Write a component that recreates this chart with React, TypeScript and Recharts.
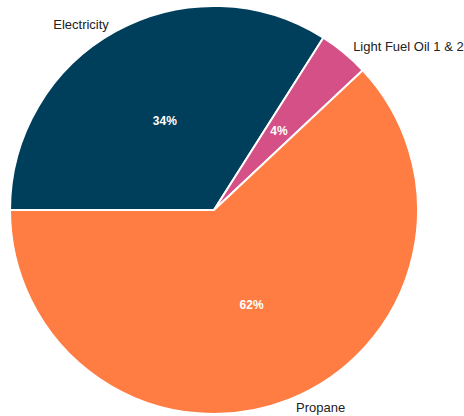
import React from 'react';
import { PieChart, Pie, Cell } from 'recharts';

const categories = ['Electricity', 'Light Fuel Oil 1 & 2', 'Propane'];
const shares = [34, 4, 62];
const colors = ['#003f5c', '#d45087', '#ff7c43'];

const data = categories.map((name, i) => ({ name, value: shares[i] }));

const RADIAN = Math.PI / 180;

const renderLabel = (props: any) => {
  const { cx, cy, midAngle, outerRadius, percent, name } = props;
  const cos = Math.cos(-midAngle * RADIAN);
  const sin = Math.sin(-midAngle * RADIAN);
  const rOut = outerRadius + 8;
  const rIn = outerRadius * 0.5;
  const pad = cos >= 0 ? 4 : -3;
  const ox = cx + rOut * cos + pad;
  const oy = cy + rOut * sin;
  const ix = cx + rIn * cos;
  const iy = cy + rIn * sin;
  return (
    <g>
      <text
        x={ix}
        y={iy}
        fill="#ffffff"
        fontSize={12}
        fontWeight="bold"
        textAnchor="middle"
        dominantBaseline="central"
        fontFamily="'Liberation Sans', Arial, sans-serif"
      >
        {`${Math.round(percent * 100)}%`}
      </text>
      <text
        x={ox}
        y={oy}
        fill="#222222"
        fontSize={13}
        textAnchor={cos >= 0 ? 'start' : 'end'}
        dominantBaseline="central"
        fontFamily="'Liberation Sans', Arial, sans-serif"
      >
        {name}
      </text>
    </g>
  );
};

export default function App() {
  return (
    <div style={{ position: 'absolute', left: 0, top: 0, background: '#ffffff' }}>
      <PieChart width={464} height={416} margin={{ top: 0, right: 0, bottom: 0, left: 0 }}>
        <Pie
          data={data}
          dataKey="value"
          nameKey="name"
          cx={214}
          cy={210}
          outerRadius={204}
          startAngle={180}
          endAngle={-180}
          stroke="#ffffff"
          strokeWidth={2}
          label={renderLabel}
          labelLine={false}
          isAnimationActive={false}
        >
          {data.map((d, i) => (
            <Cell key={d.name} fill={colors[i]} />
          ))}
        </Pie>
      </PieChart>
    </div>
  );
}
